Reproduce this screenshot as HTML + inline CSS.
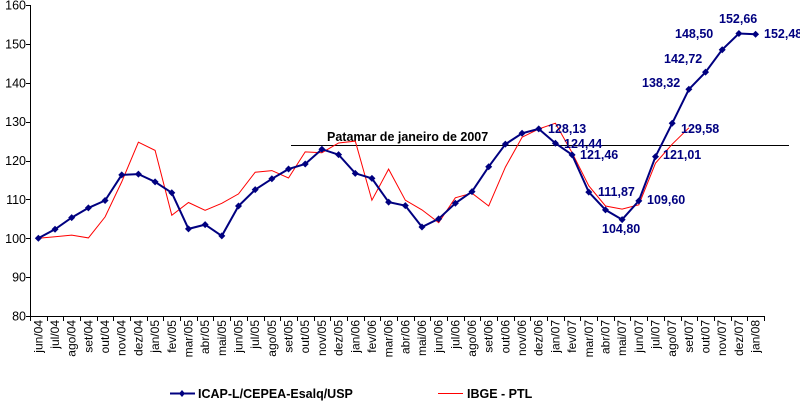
<!DOCTYPE html>
<html><head><meta charset="utf-8"><style>
html,body{margin:0;padding:0;background:#fff;}
svg{display:block;font-family:"Liberation Sans",Arial,sans-serif;}
</style></head><body>
<svg width="800" height="402" viewBox="0 0 800 402" xmlns="http://www.w3.org/2000/svg">
<g id="axes" stroke="#000" stroke-width="1" fill="none">
<line x1="30.5" y1="5" x2="30.5" y2="316"/>
<line x1="30" y1="316.5" x2="764" y2="316.5"/>
</g>
<g id="yt" font-size="12.5" text-anchor="end" fill="#000"></g>
<g id="xt" font-size="12" fill="#000"></g>
<line x1="291" y1="145.5" x2="789" y2="145.5" stroke="#000" stroke-width="1"/>
<text x="327" y="141" font-size="12.5" font-weight="bold" fill="#000">Patamar de janeiro de 2007</text>
<polyline id="red" fill="none" stroke="#ff0000" stroke-width="1"/>
<polyline id="blue" fill="none" stroke="#000080" stroke-width="2"/>
<g id="mk" fill="#000080"></g>
<g font-size="12.5" font-weight="bold" fill="#000080">
<text x="548" y="133">128,13</text>
<text x="564" y="148">124,44</text>
<text x="580" y="159">121,46</text>
<text x="598" y="196">111,87</text>
<text x="602" y="233">104,80</text>
<text x="647" y="204">109,60</text>
<text x="663" y="159">121,01</text>
<text x="681" y="133">129,58</text>
<text x="642" y="87">138,32</text>
<text x="664" y="63">142,72</text>
<text x="675" y="38">148,50</text>
<text x="719" y="23">152,66</text>
<text x="764" y="38">152,48</text>
</g>
<line x1="170" y1="393.5" x2="195" y2="393.5" stroke="#000080" stroke-width="2"/>
<path d="M182 390 L185 393.5 L182 397 L179 393.5Z" fill="#000080"/>
<text x="198" y="398" font-size="12.5" font-weight="bold" fill="#000">ICAP-L/CEPEA-Esalq/USP</text>
<line x1="438" y1="393.5" x2="463" y2="393.5" stroke="#ff0000" stroke-width="1"/>
<text x="467" y="398" font-size="12.5" font-weight="bold" fill="#000">IBGE - PTL</text>
</svg>
<script>
var ns="http://www.w3.org/2000/svg";
function Y(v){return 5+(160-v)*3.8875;}
function X(i){return 30+16.68*(i+0.5);}
var yt=document.getElementById('yt'),ax=document.getElementById('axes');
for(var v=80;v<=160;v+=10){var t=document.createElementNS(ns,'text');t.setAttribute('x',26);t.setAttribute('y',Y(v)+4.5);t.textContent=v;yt.appendChild(t);
var l=document.createElementNS(ns,'line');l.setAttribute('x1',26);l.setAttribute('x2',30);l.setAttribute('y1',Math.round(Y(v))+0.5);l.setAttribute('y2',Math.round(Y(v))+0.5);ax.appendChild(l);}
var m=["jun","jul","ago","set","out","nov","dez","jan","fev","mar","abr","mai"];
var xt=document.getElementById('xt');
for(var i=0;i<44;i++){var mi=i%12,yr=4+Math.floor((i+5)/12);var lab=m[mi]+"/0"+yr;
var t=document.createElementNS(ns,'text');var x=X(i)+4;t.setAttribute('transform','translate('+x+',320) rotate(-90)');t.setAttribute('text-anchor','end');t.textContent=lab;xt.appendChild(t);}
for(var i=0;i<=44;i++){var x=Math.round(30+16.68*i)+0.5;var l=document.createElementNS(ns,'line');l.setAttribute('x1',x);l.setAttribute('x2',x);l.setAttribute('y1',316);l.setAttribute('y2',321);ax.appendChild(l);}
var b=[100,102.3,105.3,107.8,109.7,116.3,116.5,114.5,111.7,102.4,103.5,100.6,108.3,112.5,115.3,117.8,119.1,122.9,121.5,116.7,115.4,109.3,108.4,102.9,105,109,112,118.4,124.2,127,128.13,124.44,121.46,111.87,107.3,104.8,109.6,121.01,129.58,138.32,142.72,148.5,152.66,152.48];
var r=[100,100.4,100.8,100.1,105.5,114.5,124.7,122.6,105.9,109.2,107.2,109,111.4,117,117.4,115.5,122.2,122,124.5,125,109.8,117.8,109.8,107.3,104,110.4,111.6,108.3,118.3,126,128.1,129.6,122,113.5,108.3,107.5,108.6,119.3,124.2,128.4];
function pts(a){return a.map(function(v,i){return X(i).toFixed(1)+","+Y(v).toFixed(1);}).join(" ");}
document.getElementById('blue').setAttribute('points',pts(b));
document.getElementById('red').setAttribute('points',pts(r));
var mk=document.getElementById('mk');
b.forEach(function(v,i){var x=X(i),y=Y(v);var p=document.createElementNS(ns,'path');p.setAttribute('d','M'+x+' '+(y-3.5)+' L'+(x+3.5)+' '+y+' L'+x+' '+(y+3.5)+' L'+(x-3.5)+' '+y+'Z');mk.appendChild(p);});
</script>
</body></html>
